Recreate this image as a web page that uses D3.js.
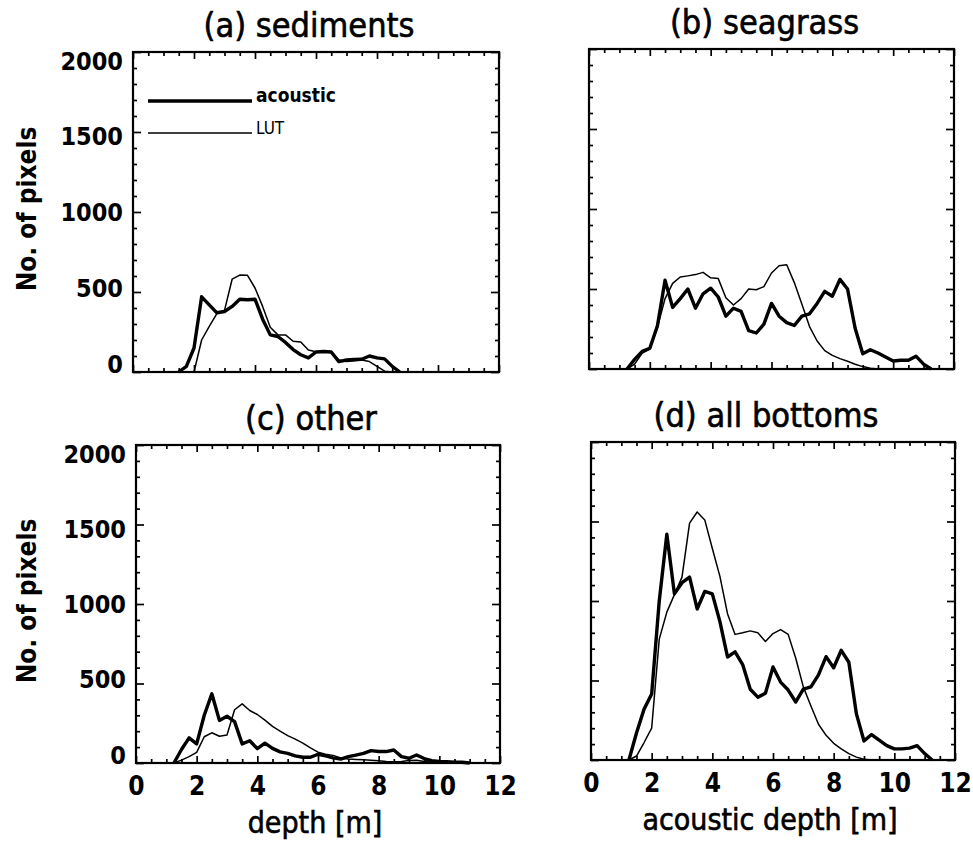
<!DOCTYPE html>
<html><head><meta charset="utf-8">
<script src="https://cdn.jsdelivr.net/npm/d3@7/dist/d3.min.js"></script>
<style>
body{margin:0;background:#fff;}
svg{display:block;}
</style></head>
<body>
<svg id="chart" width="973" height="841"></svg>
<script>
// ---- data ----
const depthBins = [1.25,1.5,1.75,2.0,2.25,2.5,2.75,3.0,3.25,3.5,3.75,4.0,4.25,4.5,4.75,5.0,5.25,5.5,5.75,6.0,6.25,6.5,6.75,7.0,7.25,7.5,7.75,8.0,8.25,8.5,8.75,9.0,9.25,9.5,9.75,10.0,10.25,10.5,10.75,11.0,11.25];
const N = null;
const sedAcoustic = [N,0,35,150,470,420,370,378,410,455,452,455,330,232,222,185,140,108,88,125,128,125,65,75,78,80,100,88,82,35,0,N,N,N,N,N,N,N,N,N,N];
const sedLUT      = [N,N,N,0,200,285,365,385,580,606,605,525,410,280,232,232,192,188,138,127,132,125,75,65,70,75,65,35,5,0,N,N,N,N,N,N,N,N,N,N,N];
const seaAcoustic = [0,60,110,130,270,555,385,440,500,380,470,505,450,330,380,360,240,225,280,410,330,290,272,330,345,410,485,455,560,500,255,95,120,100,75,50,55,55,80,30,0];
const seaLUT      = [0,30,100,125,260,440,535,575,582,590,604,570,565,445,400,440,500,495,515,600,645,652,540,405,265,175,115,85,65,48,30,15,5,0,N,N,N,N,N,N,N];
const othAcoustic = [0,85,158,120,300,435,268,294,260,120,140,90,125,92,70,60,45,36,36,55,45,32,25,40,50,60,78,72,72,82,40,30,50,28,15,10,8,5,5,0,N];
const othLUT      = [0,18,40,67,165,190,168,176,335,372,330,305,270,230,200,172,150,125,95,68,55,48,32,25,22,20,18,14,10,8,10,15,18,10,5,0,N,N,N,N,N];
const allAcoustic = [0,170,320,415,1000,1420,1045,1115,1150,950,1060,1045,870,648,680,600,445,395,420,585,490,440,365,445,460,535,650,580,690,615,290,120,160,125,90,70,70,75,90,40,0];
const allLUT      = [0,25,110,200,760,930,1040,1150,1490,1560,1510,1330,1155,920,790,800,812,800,745,795,820,790,640,460,340,225,155,105,70,40,18,5,0,N,N,N,N,N,N,N,N];

const panelTitles = ["(a) sediments","(b) seagrass","(c) other","(d) all bottoms"];
const xTickLabels = [0,2,4,6,8,10,12];
const yTickLabels = [0,500,1000,1500,2000];
const xTitles = ["", "", "depth [m]", "acoustic depth [m]"];
const yTitle = "No. of pixels";
const legendNames = ["acoustic","LUT"];

// ---- layout ----
const panels = [
  {x0:133, x1:499, y0:52,  y1:372, ac:sedAcoustic, lut:sedLUT, yl:true},
  {x0:589, x1:954, y0:49,  y1:369, ac:seaAcoustic, lut:seaLUT, yl:false},
  {x0:136, x1:500, y0:445, y1:763, ac:othAcoustic, lut:othLUT, yl:true},
  {x0:591, x1:955, y0:442, y1:760, ac:allAcoustic, lut:allLUT, yl:false}
];

const svg = d3.select("#chart");
const font = "'DejaVu Sans Condensed','DejaVu Sans',sans-serif";

panels.forEach((p,i)=>{
  const x = d3.scaleLinear().domain([0,12]).range([p.x0,p.x1]);
  const y = d3.scaleLinear().domain([0,2000]).range([p.y1,p.y0]);
  const g = svg.append("g");

  const majX = d3.range(0,12.01,2), minX = d3.range(0,12.01,0.5).filter(v=>v%2!==0);
  const majY = d3.range(0,2001,500), minY = d3.range(0,2001,100).filter(v=>v%500!==0);

  function tickAxis(axisFn, scale, vals, size, transform){
    const a = g.append("g").attr("transform",transform)
      .call(axisFn(scale).tickValues(vals).tickSize(size).tickFormat(""));
    a.select(".domain").remove();
    a.selectAll("line").attr("stroke","#000").attr("stroke-width",1.7);
  }
  tickAxis(d3.axisBottom, x, majX, -7, `translate(0,${p.y1})`);
  tickAxis(d3.axisBottom, x, minX, -4, `translate(0,${p.y1})`);
  tickAxis(d3.axisTop, x, majX, -7, `translate(0,${p.y0})`);
  tickAxis(d3.axisTop, x, minX, -4, `translate(0,${p.y0})`);
  tickAxis(d3.axisLeft, y, majY, -8, `translate(${p.x0},0)`);
  tickAxis(d3.axisLeft, y, minY, -4, `translate(${p.x0},0)`);
  tickAxis(d3.axisRight, y, majY, -8, `translate(${p.x1},0)`);
  tickAxis(d3.axisRight, y, minY, -4, `translate(${p.x1},0)`);

  g.append("rect").attr("x",p.x0).attr("y",p.y0).attr("width",p.x1-p.x0).attr("height",p.y1-p.y0)
    .attr("fill","none").attr("stroke","#000").attr("stroke-width",2.2);

  const line = d3.line().defined(d=>d[1]!==null).x(d=>x(d[0])).y(d=>y(d[1]));
  g.append("path").datum(depthBins.map((d,k)=>[d,p.lut[k]]))
    .attr("d",line).attr("fill","none").attr("stroke","#000").attr("stroke-width",1.5).attr("stroke-linejoin","round");
  g.append("path").datum(depthBins.map((d,k)=>[d,p.ac[k]]))
    .attr("d",line).attr("fill","none").attr("stroke","#000").attr("stroke-width",3.4).attr("stroke-linejoin","round");

  svg.append("text").attr("x",(p.x0+p.x1)/2 - 7).attr("y",p.y0-15)
    .attr("text-anchor","middle").attr("font-family",font).attr("font-size",34)
    .attr("stroke","#000").attr("stroke-width",0.6)
    .attr("fill","#000").text(panelTitles[i]);

  if(p.yl){
    const yLab = d3.scaleLinear().domain([0,2000]).range([p.y1-8,p.y0+9]);
    const ay = svg.append("g").attr("transform",`translate(${p.x0-2},0)`)
      .call(d3.axisLeft(yLab).tickValues(yTickLabels).tickSize(0).tickPadding(8).tickFormat(d3.format("d")));
    ay.select(".domain").remove();
    ay.selectAll("text").attr("font-family",font).attr("font-size",25).attr("font-weight","bold").attr("fill","#000");
    svg.append("text").attr("transform",`translate(36,${(p.y0+p.y1)/2 - 3}) rotate(-90)`)
      .attr("text-anchor","middle").attr("font-family",font).attr("font-size",26).attr("font-weight","bold")
      .attr("fill","#000").text(yTitle);
  }
  if(i>=2){
    const ax = svg.append("g").attr("transform",`translate(0,${p.y1+6})`)
      .call(d3.axisBottom(x).tickValues(xTickLabels).tickSize(0).tickPadding(8).tickFormat(d3.format("d")));
    ax.select(".domain").remove();
    ax.selectAll("text").attr("font-family",font).attr("font-size",26).attr("font-weight","bold").attr("fill","#000");
    svg.append("text").attr("x",(p.x0+p.x1)/2 - 3).attr("y",p.y1+70)
      .attr("text-anchor","middle").attr("font-family",font).attr("font-size",30)
      .attr("stroke","#000").attr("stroke-width",0.6)
      .attr("fill","#000").text(xTitles[i]);
  }
  if(i===0){
    const leg = [{name:legendNames[0], w:3.4, y:101, bold:true},{name:legendNames[1], w:1.5, y:133, bold:false}];
    leg.forEach(l=>{
      svg.append("line").attr("x1",148).attr("x2",252).attr("y1",l.y).attr("y2",l.y)
        .attr("stroke","#000").attr("stroke-width",l.w);
      svg.append("text").attr("x",256).attr("y",l.y+1).attr("font-family",font)
        .attr("font-size",l.bold?19:17).attr("font-weight",l.bold?"bold":"normal").attr("fill","#000").text(l.name);
    });
  }
});
</script>
</body></html>
